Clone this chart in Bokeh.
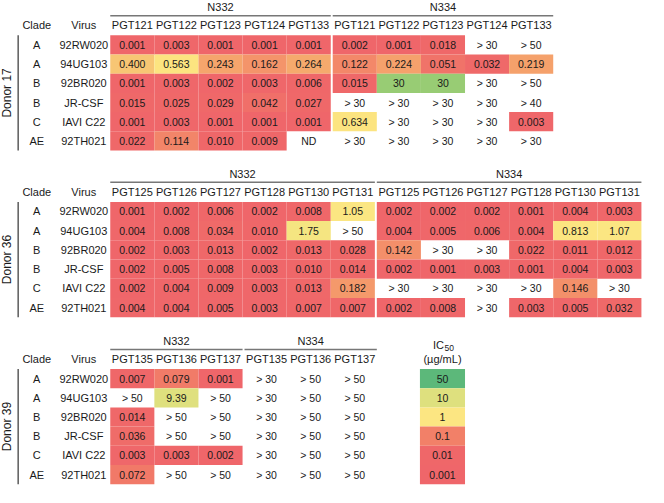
from bokeh.plotting import figure
from bokeh.models import ColumnDataSource, Range1d
from bokeh.core.properties import value
from bokeh.embed import file_html
from bokeh.resources import INLINE
import numpy as np

# ---------------- data ----------------
viruses = ["92RW020", "94UG103", "92BR020", "JR-CSF", "IAVI C22", "92TH021"]
clades = ["A", "A", "B", "B", "C", "AE"]

d17_antibodies = ["PGT121", "PGT122", "PGT123", "PGT124", "PGT133"]
d17_n332 = [
    ["0.001", "0.003", "0.001", "0.001", "0.001"],
    ["0.400", "0.563", "0.243", "0.162", "0.264"],
    ["0.001", "0.003", "0.002", "0.003", "0.006"],
    ["0.015", "0.025", "0.029", "0.042", "0.027"],
    ["0.001", "0.003", "0.001", "0.001", "0.001"],
    ["0.022", "0.114", "0.010", "0.009", "ND"],
]
d17_n334 = [
    ["0.002", "0.001", "0.018", "> 30", "> 50"],
    ["0.122", "0.224", "0.051", "0.032", "0.219"],
    ["0.015", "30", "30", "> 30", "> 50"],
    ["> 30", "> 30", "> 30", "> 30", "> 40"],
    ["0.634", "> 30", "> 30", "> 30", "0.003"],
    ["> 30", "> 30", "> 30", "> 30", "> 30"],
]

d36_antibodies = ["PGT125", "PGT126", "PGT127", "PGT128", "PGT130", "PGT131"]
d36_n332 = [
    ["0.001", "0.002", "0.006", "0.002", "0.008", "1.05"],
    ["0.004", "0.008", "0.034", "0.010", "1.75", "> 50"],
    ["0.002", "0.003", "0.013", "0.002", "0.013", "0.028"],
    ["0.002", "0.005", "0.008", "0.003", "0.010", "0.014"],
    ["0.002", "0.004", "0.009", "0.003", "0.013", "0.182"],
    ["0.004", "0.004", "0.005", "0.003", "0.007", "0.007"],
]
d36_n334 = [
    ["0.002", "0.002", "0.002", "0.001", "0.004", "0.003"],
    ["0.004", "0.005", "0.006", "0.004", "0.813", "1.07"],
    ["0.142", "> 30", "> 30", "0.022", "0.011", "0.012"],
    ["0.002", "0.001", "0.003", "0.001", "0.004", "0.003"],
    ["> 30", "> 30", "> 30", "> 30", "0.146", "> 30"],
    ["0.002", "0.008", "> 30", "0.003", "0.005", "0.032"],
]

d39_antibodies = ["PGT135", "PGT136", "PGT137"]
d39_n332 = [
    ["0.007", "0.079", "0.001"],
    ["> 50", "9.39", "> 50"],
    ["0.014", "> 50", "> 50"],
    ["0.036", "> 50", "> 50"],
    ["0.003", "0.003", "0.002"],
    ["0.072", "> 50", "> 50"],
]
d39_n334 = [
    ["> 30", "> 50", "> 50"],
    ["> 30", "> 50", "> 50"],
    ["> 30", "> 50", "> 50"],
    ["> 30", "> 50", "> 50"],
    ["> 30", "> 50", "> 50"],
    ["> 30", "> 50", "> 50"],
]

groups = ["N332", "N334"]
donors = ["Donor 17", "Donor 36", "Donor 39"]
legend_values = ["50", "10", "1", "0.1", "0.01", "0.001"]
legend_title = "IC"
legend_sub = "50"
legend_unit = "(\u00b5g/mL)"

# ---------------- colour scale (log IC50) ----------------
anchor_v = [0.001, 0.03, 0.1, 0.25, 0.4, 0.56, 1.0, 10.0, 30.0, 50.0]
anchor_c = [(239, 102, 106), (239, 104, 105), (242, 128, 104), (245, 166, 108),
            (247, 198, 116), (252, 228, 128), (252, 230, 130), (222, 224, 126),
            (152, 204, 116), (92, 184, 122)]
la = np.log10(anchor_v)


def colour(v):
    lv = np.log10(v)
    r = np.interp(lv, la, [c[0] for c in anchor_c])
    g = np.interp(lv, la, [c[1] for c in anchor_c])
    b = np.interp(lv, la, [c[2] for c in anchor_c])
    return "#%02x%02x%02x" % (int(round(r)), int(round(g)), int(round(b)))


def numeric(s):
    try:
        return float(s)
    except ValueError:
        return None


# ---------------- layout (reference pixel units) ----------------
S = 0.98
W, H = 648, 487
X0, Y0 = 4, 3
COL_W = 45
GAP = 2
X_DATA = 116
ROW_H = 19.6
X_CLADE = 41
X_VIRUS = 89
X_DONOR_LINE = 22
X_DONOR = 11
tables = [
    (donors[0], d17_antibodies, [d17_n332, d17_n334], 38.5),
    (donors[1], d36_antibodies, [d36_n332, d36_n334], 208.5),
    (donors[2], d39_antibodies, [d39_n332, d39_n334], 379.0),
]
LEG_X = 432
LEG_W = 46

p = figure(width=W, height=H, output_backend="svg", toolbar_location=None,
           x_range=Range1d(X0, X0 + W / S), y_range=Range1d(Y0 + H / S, Y0),
           min_border=0)
p.axis.visible = False
p.grid.visible = False
p.outline_line_color = None
p.background_fill_color = "white"

FONT = value("Liberation Sans")
TXT = "#1a1a1a"

cell = dict(l=[], r=[], t=[], b=[], c=[])
vals = dict(x=[], y=[], t=[])
heads = dict(x=[], y=[], t=[])
glab = dict(x=[], y=[], t=[])
hl = dict(xs=[], ys=[])
vl = dict(xs=[], ys=[])
donor = dict(x=[], y=[], t=[])

for dname, abs_, gdata, top in tables:
    n = len(abs_)
    nrows = len(viruses)
    # row labels
    heads["x"] += [X_CLADE, X_VIRUS]
    heads["y"] += [top - 10, top - 10]
    heads["t"] += ["Clade", "Virus"]
    for i in range(nrows):
        yc = top + (i + 0.5) * ROW_H
        heads["x"] += [X_CLADE, X_VIRUS]
        heads["y"] += [yc, yc]
        heads["t"] += [clades[i], viruses[i]]
    donor["x"].append(X_DONOR)
    donor["y"].append(top + nrows * ROW_H / 2)
    donor["t"].append(dname)
    vl["xs"].append([X_DONOR_LINE, X_DONOR_LINE])
    vl["ys"].append([top, top + nrows * ROW_H])
    for gi, data in enumerate(gdata):
        gx0 = X_DATA + gi * (n * COL_W + GAP)
        hl["xs"].append([gx0, gx0 + n * COL_W])
        hl["ys"].append([top - 20, top - 20])
        glab["x"].append(gx0 + n * COL_W / 2)
        glab["y"].append(top - 28.5)
        glab["t"].append(groups[gi])
        for j in range(n):
            xc = gx0 + (j + 0.5) * COL_W
            heads["x"].append(xc)
            heads["y"].append(top - 10)
            heads["t"].append(abs_[j])
            for i in range(nrows):
                s = data[i][j]
                yc = top + (i + 0.5) * ROW_H
                v = numeric(s)
                if v is not None:
                    cell["l"].append(gx0 + j * COL_W)
                    cell["r"].append(gx0 + (j + 1) * COL_W)
                    cell["t"].append(top + i * ROW_H)
                    cell["b"].append(top + (i + 1) * ROW_H)
                    cell["c"].append(colour(v))
                vals["x"].append(xc)
                vals["y"].append(yc)
                vals["t"].append(s)

# legend
ltop = tables[2][3]
for i, s in enumerate(legend_values):
    cell["l"].append(LEG_X)
    cell["r"].append(LEG_X + LEG_W)
    cell["t"].append(ltop + i * ROW_H)
    cell["b"].append(ltop + (i + 1) * ROW_H)
    cell["c"].append(colour(float(s)))
    vals["x"].append(LEG_X + LEG_W / 2)
    vals["y"].append(ltop + (i + 0.5) * ROW_H)
    vals["t"].append(s)

p.quad(left="l", right="r", top="t", bottom="b", fill_color="c", line_color=None,
       source=ColumnDataSource(cell))
p.multi_line(xs="xs", ys="ys", line_color="#777777", line_width=1.5,
             source=ColumnDataSource(hl))
p.multi_line(xs="xs", ys="ys", line_color="#333333", line_width=1.2,
             source=ColumnDataSource(vl))
p.text(x="x", y="y", text="t", source=ColumnDataSource(vals), text_font=FONT,
       text_font_size="10.5px", text_align="center", text_baseline="middle",
       text_color=TXT)
p.text(x="x", y="y", text="t", source=ColumnDataSource(heads), text_font=FONT,
       text_font_size="11px", text_align="center", text_baseline="middle",
       text_color=TXT)
p.text(x="x", y="y", text="t", source=ColumnDataSource(glab), text_font=FONT,
       text_font_size="11px", text_align="center", text_baseline="middle",
       text_color=TXT)
p.text(x="x", y="y", text="t", source=ColumnDataSource(donor), text_font=FONT,
       text_font_size="12px", text_align="center", text_baseline="middle",
       text_color=TXT, angle=np.pi / 2)
# legend title
p.text(x=[LEG_X + LEG_W / 2 - 4], y=[ltop - 24], text=[legend_title], text_font=FONT,
       text_font_size="11px", text_align="center", text_baseline="middle", text_color=TXT)
p.text(x=[LEG_X + LEG_W / 2 + 7], y=[ltop - 21], text=[legend_sub], text_font=FONT,
       text_font_size="8.5px", text_align="center", text_baseline="middle", text_color=TXT)
p.text(x=[LEG_X + LEG_W / 2], y=[ltop - 10], text=[legend_unit], text_font=FONT,
       text_font_size="11px", text_align="center", text_baseline="middle", text_color=TXT)

open("out.html", "w").write(file_html(p, INLINE))
